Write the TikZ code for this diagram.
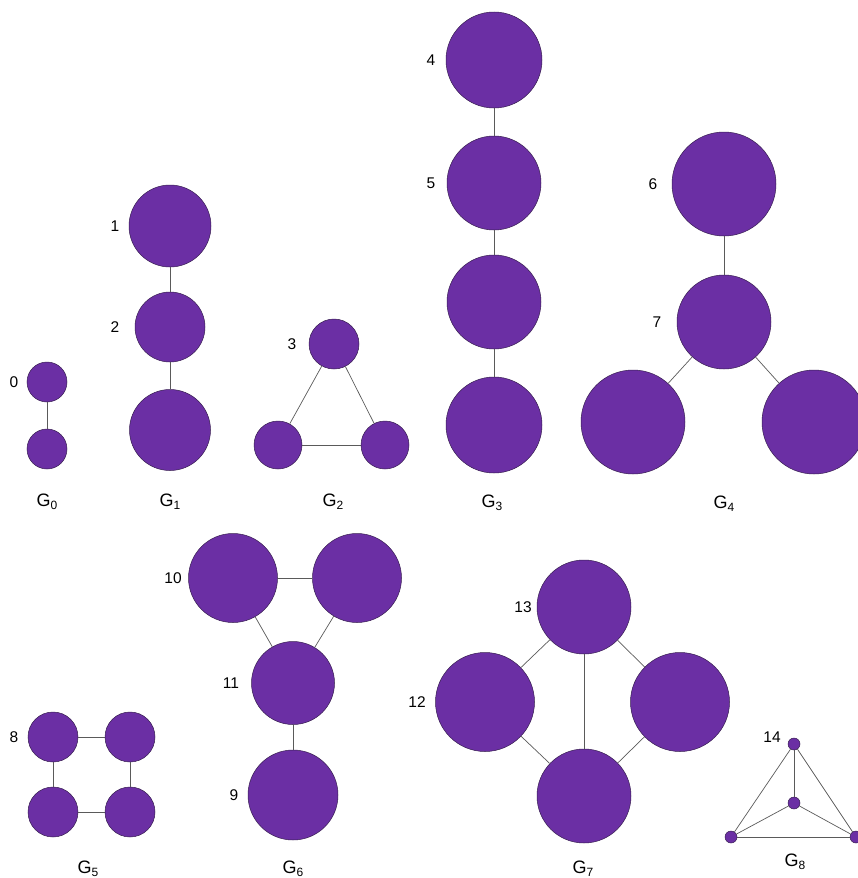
\documentclass[tikz,border=0pt]{standalone}
\usepackage{fontspec}
\setmainfont{Liberation Sans}
\definecolor{vpurple}{RGB}{107,47,164}
\definecolor{vborder}{RGB}{55,30,80}
\definecolor{vedge}{RGB}{90,90,90}
\newcommand{\glab}[1]{G\raisebox{-0.3ex}{\fontsize{12}{12}\selectfont #1}}
\tikzset{
  vert/.style={circle, fill=vpurple, draw=vborder, line width=0.5pt, inner sep=0pt, minimum size=#1},
  vlab/.style={font=\fontsize{15.5}{15.5}\selectfont, inner sep=0pt},
  glabel/.style={font=\fontsize{18}{18}\selectfont, inner sep=0pt},
  conn/.style={draw=vedge, line width=0.7pt}
}
\begin{document}
\begin{tikzpicture}[x=1pt,y=-1pt]
\useasboundingbox (0,0) rectangle (858,878);
% G0
\node[vert=40pt] (a0) at (47,382) {};
\node[vert=40pt] (a1) at (47,449) {};
\node[vlab] (l0) at (14,382) {0};
\node[glabel] (g0) at (47,502) {\glab{0}};
\draw[conn] (a0) -- (a1);
% G1
\node[vert=82pt] (b1) at (170,226) {};
\node[vert=70pt] (b2) at (170,327) {};
\node[vert=81pt] (b3) at (170,430) {};
\node[vlab] (l1) at (115,226) {1};
\node[vlab] (l2) at (115,327) {2};
\node[glabel] (g1) at (170,502) {\glab{1}};
\draw[conn] (b1) -- (b2);
\draw[conn] (b2) -- (b3);
% G2
\node[vert=50pt] (c3) at (334,344) {};
\node[vert=48pt] (c4) at (278,445) {};
\node[vert=48pt] (c5) at (385,445) {};
\node[vlab] (l3) at (292,344) {3};
\node[glabel] (g2) at (333,502) {\glab{2}};
\draw[conn] (c3) -- (c4);
\draw[conn] (c3) -- (c5);
\draw[conn] (c4) -- (c5);
% G3
\node[vert=96pt] (d4) at (494,60) {};
\node[vert=94pt] (d5) at (494,183) {};
\node[vert=94pt] (d6) at (494,302) {};
\node[vert=96pt] (d7) at (494,425) {};
\node[vlab] (l4) at (431,60) {4};
\node[vlab] (l5) at (431,183) {5};
\node[glabel] (g3) at (492,503) {\glab{3}};
\draw[conn] (d4) -- (d5);
\draw[conn] (d5) -- (d6);
\draw[conn] (d6) -- (d7);
% G4
\node[vert=104pt] (e6) at (724,184) {};
\node[vert=94pt] (e7) at (724,322) {};
\node[vert=104pt] (e8) at (633,422) {};
\node[vert=104pt] (e9) at (814,422) {};
\node[vlab] (l6) at (653,184) {6};
\node[vlab] (l7) at (657,322) {7};
\node[glabel] (g4) at (724,504) {\glab{4}};
\draw[conn] (e6) -- (e7);
\draw[conn] (e7) -- (e8);
\draw[conn] (e7) -- (e9);
% G5
\node[vert=50pt] (f8) at (53,737) {};
\node[vert=50pt] (f9) at (130,737) {};
\node[vert=50pt] (f10) at (53,812) {};
\node[vert=50pt] (f11) at (130,812) {};
\node[vlab] (l8) at (14,737) {8};
\node[glabel] (g5) at (88,869) {\glab{5}};
\draw[conn] (f8) -- (f9);
\draw[conn] (f9) -- (f11);
\draw[conn] (f11) -- (f10);
\draw[conn] (f10) -- (f8);
% G6
\node[vert=89pt] (h10) at (233,578) {};
\node[vert=89pt] (h12) at (357,578) {};
\node[vert=83pt] (h11) at (293,683) {};
\node[vert=90pt] (h9) at (293,795) {};
\node[vlab] (l10) at (173,578) {10};
\node[vlab] (l11) at (231,683) {11};
\node[vlab] (l9) at (234,795) {9};
\node[glabel] (g6) at (293,869) {\glab{6}};
\draw[conn] (h10) -- (h12);
\draw[conn] (h10) -- (h11);
\draw[conn] (h12) -- (h11);
\draw[conn] (h11) -- (h9);
% G7
\node[vert=94pt] (k13) at (584,607) {};
\node[vert=99pt] (k12) at (485,702) {};
\node[vert=99pt] (k14) at (680,702) {};
\node[vert=94pt] (k15) at (584,796) {};
\node[vlab] (l13) at (523,607) {13};
\node[vlab] (l12) at (417,702) {12};
\node[glabel] (g7) at (583,869) {\glab{7}};
\draw[conn] (k13) -- (k12);
\draw[conn] (k13) -- (k14);
\draw[conn] (k13) -- (k15);
\draw[conn] (k12) -- (k15);
\draw[conn] (k14) -- (k15);
% G8
\node[vert=12pt] (m14) at (794,744) {};
\node[vert=12pt] (m15) at (794,803) {};
\node[vert=12pt] (m16) at (731,837) {};
\node[vert=12pt] (m17) at (856,837) {};
\node[vlab] (l14) at (772,737) {14};
\node[glabel] (g8) at (795,862) {\glab{8}};
\draw[conn] (m14) -- (m15);
\draw[conn] (m14) -- (m16);
\draw[conn] (m14) -- (m17);
\draw[conn] (m15) -- (m16);
\draw[conn] (m15) -- (m17);
\draw[conn] (m16) -- (m17);
\end{tikzpicture}
\end{document}
